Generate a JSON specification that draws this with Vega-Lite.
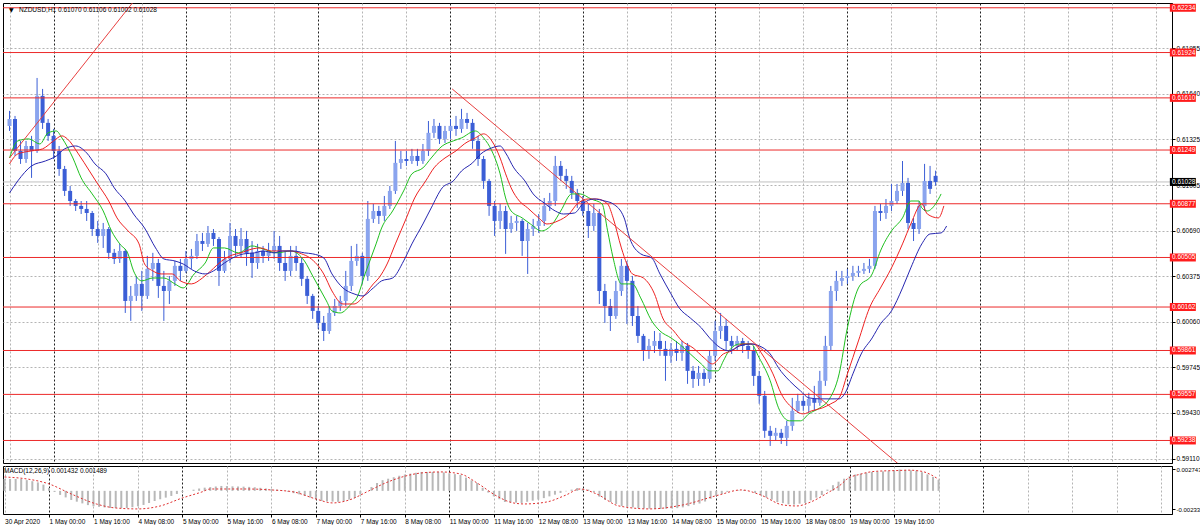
{
  "$schema": "https://vega.github.io/schema/vega-lite/v6.json",
  "background": "#ffffff",
  "padding": {"left": 2, "top": 2, "right": 0, "bottom": 0},
  "spacing": 1,
  "config": {
    "view": {"stroke": "#000000", "strokeWidth": 1},
    "font": "Liberation Sans",
    "axis": {"labelFont": "Liberation Sans", "labelColor": "#000000", "title": null}
  },
  "datasets": {
    "candles": [
      {"i":-16,"o":0.61416,"h":0.61520,"l":0.61381,"c":0.61464,"m":0.00153},
      {"i":-14,"o":0.61464,"h":0.61485,"l":0.61208,"c":0.61243,"m":0.00153},
      {"i":-12,"o":0.61243,"h":0.61312,"l":0.61153,"c":0.61187,"m":0.00153},
      {"i":-10,"o":0.61187,"h":0.61312,"l":0.61160,"c":0.61277,"m":0.00153},
      {"i":-8,"o":0.61277,"h":0.61347,"l":0.61056,"c":0.61243,"m":0.00138},
      {"i":-6,"o":0.61243,"h":0.61748,"l":0.61229,"c":0.61624,"m":0.00124},
      {"i":-4,"o":0.61624,"h":0.61672,"l":0.61395,"c":0.61437,"m":0.00109},
      {"i":-2,"o":0.61437,"h":0.61464,"l":0.61312,"c":0.61347,"m":0.00080},
      {"i":0,"o":0.61347,"h":0.61395,"l":0.61187,"c":0.61243,"m":0.00037},
      {"i":2,"o":0.61243,"h":0.61277,"l":0.61070,"c":0.61118,"m":-0.00014},
      {"i":4,"o":0.61118,"h":0.61139,"l":0.60931,"c":0.60966,"m":-0.00052},
      {"i":6,"o":0.60966,"h":0.61000,"l":0.60862,"c":0.60896,"m":-0.00084},
      {"i":8,"o":0.60896,"h":0.60910,"l":0.60827,"c":0.60862,"m":-0.00117},
      {"i":10,"o":0.60862,"h":0.60896,"l":0.60806,"c":0.60841,"m":-0.00139},
      {"i":12,"o":0.60841,"h":0.60896,"l":0.60758,"c":0.60813,"m":-0.00161},
      {"i":14,"o":0.60813,"h":0.60827,"l":0.60654,"c":0.60702,"m":-0.00183},
      {"i":16,"o":0.60702,"h":0.60758,"l":0.60606,"c":0.60654,"m":-0.00198},
      {"i":18,"o":0.60654,"h":0.60744,"l":0.60571,"c":0.60702,"m":-0.00205},
      {"i":20,"o":0.60702,"h":0.60716,"l":0.60495,"c":0.60537,"m":-0.00213},
      {"i":22,"o":0.60537,"h":0.60564,"l":0.60460,"c":0.60495,"m":-0.00220},
      {"i":24,"o":0.60495,"h":0.60599,"l":0.60467,"c":0.60550,"m":-0.00220},
      {"i":26,"o":0.60550,"h":0.60564,"l":0.60121,"c":0.60204,"m":-0.00220},
      {"i":28,"o":0.60204,"h":0.60308,"l":0.60066,"c":0.60239,"m":-0.00220},
      {"i":30,"o":0.60239,"h":0.60377,"l":0.60204,"c":0.60322,"m":-0.00210},
      {"i":32,"o":0.60322,"h":0.60412,"l":0.60135,"c":0.60239,"m":-0.00199},
      {"i":34,"o":0.60239,"h":0.60516,"l":0.60218,"c":0.60426,"m":-0.00181},
      {"i":36,"o":0.60426,"h":0.60537,"l":0.60343,"c":0.60467,"m":-0.00156},
      {"i":38,"o":0.60467,"h":0.60495,"l":0.60225,"c":0.60308,"m":-0.00130},
      {"i":40,"o":0.60308,"h":0.60412,"l":0.60066,"c":0.60273,"m":-0.00108},
      {"i":42,"o":0.60273,"h":0.60377,"l":0.60183,"c":0.60343,"m":-0.00087},
      {"i":44,"o":0.60343,"h":0.60481,"l":0.60308,"c":0.60447,"m":-0.00065},
      {"i":46,"o":0.60447,"h":0.60495,"l":0.60343,"c":0.60412,"m":-0.00040},
      {"i":48,"o":0.60412,"h":0.60550,"l":0.60398,"c":0.60495,"m":-0.00014},
      {"i":50,"o":0.60495,"h":0.60564,"l":0.60426,"c":0.60516,"m":0.00001},
      {"i":52,"o":0.60516,"h":0.60668,"l":0.60495,"c":0.60619,"m":0.00015},
      {"i":54,"o":0.60619,"h":0.60675,"l":0.60550,"c":0.60599,"m":0.00030},
      {"i":56,"o":0.60599,"h":0.60723,"l":0.60578,"c":0.60675,"m":0.00041},
      {"i":58,"o":0.60675,"h":0.60702,"l":0.60585,"c":0.60633,"m":0.00048},
      {"i":60,"o":0.60633,"h":0.60647,"l":0.60308,"c":0.60412,"m":0.00056},
      {"i":62,"o":0.60412,"h":0.60550,"l":0.60398,"c":0.60495,"m":0.00063},
      {"i":64,"o":0.60495,"h":0.60744,"l":0.60467,"c":0.60654,"m":0.00061},
      {"i":66,"o":0.60654,"h":0.60702,"l":0.60516,"c":0.60585,"m":0.00058},
      {"i":68,"o":0.60585,"h":0.60709,"l":0.60502,"c":0.60633,"m":0.00056},
      {"i":70,"o":0.60633,"h":0.60689,"l":0.60447,"c":0.60537,"m":0.00054},
      {"i":72,"o":0.60537,"h":0.60619,"l":0.60363,"c":0.60467,"m":0.00051},
      {"i":74,"o":0.60467,"h":0.60599,"l":0.60426,"c":0.60550,"m":0.00046},
      {"i":76,"o":0.60550,"h":0.60585,"l":0.60467,"c":0.60516,"m":0.00039},
      {"i":78,"o":0.60516,"h":0.60606,"l":0.60481,"c":0.60550,"m":0.00031},
      {"i":80,"o":0.60550,"h":0.60689,"l":0.60495,"c":0.60585,"m":0.00023},
      {"i":82,"o":0.60585,"h":0.60654,"l":0.60412,"c":0.60467,"m":0.00016},
      {"i":84,"o":0.60467,"h":0.60550,"l":0.60343,"c":0.60412,"m":0.00004},
      {"i":86,"o":0.60412,"h":0.60585,"l":0.60377,"c":0.60516,"m":-0.00012},
      {"i":88,"o":0.60516,"h":0.60585,"l":0.60412,"c":0.60467,"m":-0.00029},
      {"i":90,"o":0.60467,"h":0.60502,"l":0.60308,"c":0.60357,"m":-0.00045},
      {"i":92,"o":0.60357,"h":0.60377,"l":0.60183,"c":0.60239,"m":-0.00064},
      {"i":94,"o":0.60239,"h":0.60253,"l":0.60080,"c":0.60135,"m":-0.00086},
      {"i":96,"o":0.60135,"h":0.60169,"l":0.60010,"c":0.60052,"m":-0.00108},
      {"i":98,"o":0.60052,"h":0.60100,"l":0.59927,"c":0.59996,"m":-0.00130},
      {"i":100,"o":0.59996,"h":0.60169,"l":0.59976,"c":0.60121,"m":-0.00134},
      {"i":102,"o":0.60121,"h":0.60218,"l":0.60100,"c":0.60169,"m":-0.00138},
      {"i":104,"o":0.60169,"h":0.60239,"l":0.60135,"c":0.60204,"m":-0.00141},
      {"i":106,"o":0.60204,"h":0.60412,"l":0.60169,"c":0.60308,"m":-0.00133},
      {"i":108,"o":0.60308,"h":0.60585,"l":0.60273,"c":0.60481,"m":-0.00112},
      {"i":110,"o":0.60481,"h":0.60599,"l":0.60447,"c":0.60516,"m":-0.00091},
      {"i":112,"o":0.60516,"h":0.60537,"l":0.60322,"c":0.60377,"m":-0.00045},
      {"i":114,"o":0.60377,"h":0.60896,"l":0.60343,"c":0.60772,"m":0.00001},
      {"i":116,"o":0.60772,"h":0.60876,"l":0.60744,"c":0.60827,"m":0.00050},
      {"i":118,"o":0.60827,"h":0.60862,"l":0.60737,"c":0.60793,"m":0.00101},
      {"i":120,"o":0.60793,"h":0.60931,"l":0.60758,"c":0.60862,"m":0.00137},
      {"i":122,"o":0.60862,"h":0.61000,"l":0.60841,"c":0.60966,"m":0.00156},
      {"i":124,"o":0.60966,"h":0.61312,"l":0.60945,"c":0.61160,"m":0.00175},
      {"i":126,"o":0.61160,"h":0.61243,"l":0.61118,"c":0.61187,"m":0.00194},
      {"i":128,"o":0.61187,"h":0.61243,"l":0.61139,"c":0.61173,"m":0.00210},
      {"i":130,"o":0.61173,"h":0.61257,"l":0.61153,"c":0.61208,"m":0.00221},
      {"i":132,"o":0.61208,"h":0.61257,"l":0.61139,"c":0.61173,"m":0.00232},
      {"i":134,"o":0.61173,"h":0.61291,"l":0.61153,"c":0.61243,"m":0.00243},
      {"i":136,"o":0.61243,"h":0.61450,"l":0.61208,"c":0.61368,"m":0.00243},
      {"i":138,"o":0.61368,"h":0.61464,"l":0.61333,"c":0.61416,"m":0.00243},
      {"i":140,"o":0.61416,"h":0.61437,"l":0.61291,"c":0.61326,"m":0.00243},
      {"i":142,"o":0.61326,"h":0.61416,"l":0.61298,"c":0.61381,"m":0.00237},
      {"i":144,"o":0.61381,"h":0.61464,"l":0.61326,"c":0.61416,"m":0.00226},
      {"i":146,"o":0.61416,"h":0.61485,"l":0.61347,"c":0.61395,"m":0.00215},
      {"i":148,"o":0.61395,"h":0.61534,"l":0.61368,"c":0.61464,"m":0.00204},
      {"i":150,"o":0.61464,"h":0.61506,"l":0.61395,"c":0.61437,"m":0.00170},
      {"i":152,"o":0.61437,"h":0.61464,"l":0.61257,"c":0.61312,"m":0.00135},
      {"i":154,"o":0.61312,"h":0.61347,"l":0.61139,"c":0.61187,"m":0.00101},
      {"i":156,"o":0.61187,"h":0.61208,"l":0.60980,"c":0.61035,"m":0.00039},
      {"i":158,"o":0.61035,"h":0.61049,"l":0.60793,"c":0.60862,"m":-0.00022},
      {"i":160,"o":0.60862,"h":0.60896,"l":0.60654,"c":0.60758,"m":-0.00071},
      {"i":162,"o":0.60758,"h":0.60876,"l":0.60702,"c":0.60827,"m":-0.00107},
      {"i":164,"o":0.60827,"h":0.60862,"l":0.60530,"c":0.60702,"m":-0.00143},
      {"i":166,"o":0.60702,"h":0.60793,"l":0.60675,"c":0.60744,"m":-0.00147},
      {"i":168,"o":0.60744,"h":0.60793,"l":0.60689,"c":0.60758,"m":-0.00151},
      {"i":170,"o":0.60758,"h":0.60772,"l":0.60516,"c":0.60619,"m":-0.00155},
      {"i":172,"o":0.60619,"h":0.60744,"l":0.60391,"c":0.60702,"m":-0.00140},
      {"i":174,"o":0.60702,"h":0.60772,"l":0.60654,"c":0.60723,"m":-0.00126},
      {"i":176,"o":0.60723,"h":0.60806,"l":0.60675,"c":0.60758,"m":-0.00111},
      {"i":178,"o":0.60758,"h":0.60917,"l":0.60723,"c":0.60862,"m":-0.00093},
      {"i":180,"o":0.60862,"h":0.60952,"l":0.60827,"c":0.60896,"m":-0.00071},
      {"i":182,"o":0.60896,"h":0.61208,"l":0.60862,"c":0.61139,"m":-0.00049},
      {"i":184,"o":0.61139,"h":0.61173,"l":0.61035,"c":0.61070,"m":-0.00027},
      {"i":186,"o":0.61070,"h":0.61118,"l":0.60980,"c":0.61035,"m":-0.00006},
      {"i":188,"o":0.61035,"h":0.61070,"l":0.60910,"c":0.60952,"m":0.00016},
      {"i":190,"o":0.60952,"h":0.60980,"l":0.60848,"c":0.60896,"m":0.00037},
      {"i":192,"o":0.60896,"h":0.60931,"l":0.60793,"c":0.60827,"m":0.00027},
      {"i":194,"o":0.60827,"h":0.60876,"l":0.60640,"c":0.60723,"m":0.00017},
      {"i":196,"o":0.60723,"h":0.60876,"l":0.60689,"c":0.60813,"m":-0.00017},
      {"i":198,"o":0.60813,"h":0.60841,"l":0.60183,"c":0.60273,"m":-0.00075},
      {"i":200,"o":0.60273,"h":0.60322,"l":0.60052,"c":0.60169,"m":-0.00117},
      {"i":202,"o":0.60169,"h":0.60218,"l":0.59996,"c":0.60100,"m":-0.00143},
      {"i":204,"o":0.60100,"h":0.60343,"l":0.60080,"c":0.60273,"m":-0.00168},
      {"i":206,"o":0.60273,"h":0.60495,"l":0.60239,"c":0.60447,"m":-0.00194},
      {"i":208,"o":0.60447,"h":0.60481,"l":0.60045,"c":0.60343,"m":-0.00203},
      {"i":210,"o":0.60343,"h":0.60377,"l":0.60031,"c":0.60100,"m":-0.00212},
      {"i":212,"o":0.60100,"h":0.60169,"l":0.59913,"c":0.59962,"m":-0.00221},
      {"i":214,"o":0.59962,"h":0.59976,"l":0.59789,"c":0.59858,"m":-0.00226},
      {"i":216,"o":0.59858,"h":0.59941,"l":0.59803,"c":0.59893,"m":-0.00229},
      {"i":218,"o":0.59893,"h":0.59996,"l":0.59844,"c":0.59927,"m":-0.00232},
      {"i":220,"o":0.59927,"h":0.59983,"l":0.59824,"c":0.59872,"m":-0.00233},
      {"i":222,"o":0.59872,"h":0.59927,"l":0.59651,"c":0.59824,"m":-0.00229},
      {"i":224,"o":0.59824,"h":0.59913,"l":0.59775,"c":0.59872,"m":-0.00226},
      {"i":226,"o":0.59872,"h":0.59927,"l":0.59789,"c":0.59844,"m":-0.00222},
      {"i":228,"o":0.59844,"h":0.59927,"l":0.59789,"c":0.59893,"m":-0.00212},
      {"i":230,"o":0.59893,"h":0.59913,"l":0.59630,"c":0.59720,"m":-0.00196},
      {"i":232,"o":0.59720,"h":0.59754,"l":0.59602,"c":0.59664,"m":-0.00179},
      {"i":234,"o":0.59664,"h":0.59754,"l":0.59616,"c":0.59706,"m":-0.00163},
      {"i":236,"o":0.59706,"h":0.59734,"l":0.59616,"c":0.59664,"m":-0.00137},
      {"i":238,"o":0.59664,"h":0.59858,"l":0.59637,"c":0.59824,"m":-0.00101},
      {"i":240,"o":0.59824,"h":0.60066,"l":0.59789,"c":0.59996,"m":-0.00065},
      {"i":242,"o":0.59996,"h":0.60121,"l":0.59941,"c":0.60031,"m":-0.00039},
      {"i":244,"o":0.60031,"h":0.60080,"l":0.59858,"c":0.59927,"m":-0.00013},
      {"i":246,"o":0.59927,"h":0.59962,"l":0.59837,"c":0.59893,"m":0.00002},
      {"i":248,"o":0.59893,"h":0.59962,"l":0.59858,"c":0.59927,"m":0.00006},
      {"i":250,"o":0.59927,"h":0.59948,"l":0.59844,"c":0.59893,"m":0.00010},
      {"i":252,"o":0.59893,"h":0.59927,"l":0.59803,"c":0.59858,"m":-0.00001},
      {"i":254,"o":0.59858,"h":0.59893,"l":0.59616,"c":0.59685,"m":-0.00027},
      {"i":256,"o":0.59685,"h":0.59720,"l":0.59492,"c":0.59547,"m":-0.00053},
      {"i":258,"o":0.59547,"h":0.59581,"l":0.59256,"c":0.59305,"m":-0.00083},
      {"i":260,"o":0.59305,"h":0.59339,"l":0.59200,"c":0.59270,"m":-0.00113},
      {"i":262,"o":0.59270,"h":0.59325,"l":0.59235,"c":0.59291,"m":-0.00143},
      {"i":264,"o":0.59291,"h":0.59318,"l":0.59214,"c":0.59256,"m":-0.00158},
      {"i":266,"o":0.59256,"h":0.59374,"l":0.59200,"c":0.59339,"m":-0.00173},
      {"i":268,"o":0.59339,"h":0.59533,"l":0.59305,"c":0.59443,"m":-0.00176},
      {"i":270,"o":0.59443,"h":0.59561,"l":0.59429,"c":0.59512,"m":-0.00165},
      {"i":272,"o":0.59512,"h":0.59547,"l":0.59443,"c":0.59478,"m":-0.00155},
      {"i":274,"o":0.59478,"h":0.59568,"l":0.59429,"c":0.59526,"m":-0.00121},
      {"i":276,"o":0.59526,"h":0.59616,"l":0.59443,"c":0.59499,"m":-0.00087},
      {"i":278,"o":0.59499,"h":0.59720,"l":0.59478,"c":0.59651,"m":-0.00053},
      {"i":280,"o":0.59651,"h":0.59962,"l":0.59616,"c":0.59893,"m":0.00016},
      {"i":282,"o":0.59893,"h":0.60308,"l":0.59858,"c":0.60273,"m":0.00073},
      {"i":284,"o":0.60273,"h":0.60412,"l":0.60204,"c":0.60343,"m":0.00118},
      {"i":286,"o":0.60343,"h":0.60412,"l":0.60308,"c":0.60363,"m":0.00156},
      {"i":288,"o":0.60363,"h":0.60426,"l":0.60322,"c":0.60377,"m":0.00188},
      {"i":290,"o":0.60377,"h":0.60447,"l":0.60343,"c":0.60398,"m":0.00210},
      {"i":292,"o":0.60398,"h":0.60447,"l":0.60370,"c":0.60412,"m":0.00221},
      {"i":294,"o":0.60412,"h":0.60467,"l":0.60391,"c":0.60426,"m":0.00232},
      {"i":296,"o":0.60426,"h":0.60495,"l":0.60398,"c":0.60447,"m":0.00243},
      {"i":298,"o":0.60447,"h":0.60862,"l":0.60426,"c":0.60827,"m":0.00246},
      {"i":300,"o":0.60827,"h":0.60876,"l":0.60758,"c":0.60813,"m":0.00250},
      {"i":302,"o":0.60813,"h":0.60910,"l":0.60772,"c":0.60862,"m":0.00253},
      {"i":304,"o":0.60862,"h":0.61014,"l":0.60827,"c":0.60896,"m":0.00260},
      {"i":306,"o":0.60896,"h":0.61014,"l":0.60876,"c":0.60966,"m":0.00274},
      {"i":308,"o":0.60966,"h":0.61173,"l":0.60931,"c":0.61021,"m":0.00268},
      {"i":310,"o":0.61021,"h":0.61056,"l":0.60702,"c":0.60744,"m":0.00264},
      {"i":312,"o":0.60744,"h":0.60779,"l":0.60619,"c":0.60702,"m":0.00258},
      {"i":314,"o":0.60702,"h":0.60896,"l":0.60668,"c":0.60862,"m":0.00240},
      {"i":316,"o":0.60862,"h":0.61153,"l":0.60827,"c":0.61035,"m":0.00212},
      {"i":318,"o":0.61035,"h":0.61139,"l":0.60945,"c":0.60980,"m":0.00178},
      {"i":320,"o":0.61070,"h":0.61106,"l":0.61002,"c":0.61028,"m":0.00143}
    ],
    "ma": [
      {"k":"fast","i":-16,"p":0.61194},{"k":"fast","i":-13,"p":0.61312},{"k":"fast","i":-9,"p":0.61326},{"k":"fast","i":-5,"p":0.61291},{"k":"fast","i":-2,"p":0.61368},{"k":"fast","i":1,"p":0.61381},{"k":"fast","i":3,"p":0.61333},{"k":"fast","i":7,"p":0.61194},{"k":"fast","i":10,"p":0.61056},{"k":"fast","i":14,"p":0.60945},{"k":"fast","i":18,"p":0.60827},{"k":"fast","i":21,"p":0.60689},{"k":"fast","i":24,"p":0.60599},{"k":"fast","i":27,"p":0.60530},{"k":"fast","i":29,"p":0.60412},{"k":"fast","i":32,"p":0.60343},{"k":"fast","i":36,"p":0.60363},{"k":"fast","i":40,"p":0.60363},{"k":"fast","i":44,"p":0.60322},{"k":"fast","i":47,"p":0.60294},{"k":"fast","i":51,"p":0.60391},{"k":"fast","i":55,"p":0.60467},{"k":"fast","i":58,"p":0.60571},{"k":"fast","i":62,"p":0.60571},{"k":"fast","i":67,"p":0.60537},{"k":"fast","i":72,"p":0.60585},{"k":"fast","i":76,"p":0.60564},{"k":"fast","i":81,"p":0.60537},{"k":"fast","i":86,"p":0.60550},{"k":"fast","i":91,"p":0.60481},{"k":"fast","i":94,"p":0.60377},{"k":"fast","i":99,"p":0.60204},{"k":"fast","i":101,"p":0.60135},{"k":"fast","i":104,"p":0.60121},{"k":"fast","i":108,"p":0.60183},{"k":"fast","i":110,"p":0.60225},{"k":"fast","i":113,"p":0.60391},{"k":"fast","i":117,"p":0.60599},{"k":"fast","i":119,"p":0.60709},{"k":"fast","i":123,"p":0.60827},{"k":"fast","i":127,"p":0.60966},{"k":"fast","i":130,"p":0.61084},{"k":"fast","i":134,"p":0.61125},{"k":"fast","i":137,"p":0.61194},{"k":"fast","i":141,"p":0.61277},{"k":"fast","i":145,"p":0.61312},{"k":"fast","i":148,"p":0.61333},{"k":"fast","i":153,"p":0.61381},{"k":"fast","i":156,"p":0.61333},{"k":"fast","i":159,"p":0.61243},{"k":"fast","i":162,"p":0.61084},{"k":"fast","i":164,"p":0.60917},{"k":"fast","i":166,"p":0.60827},{"k":"fast","i":170,"p":0.60779},{"k":"fast","i":173,"p":0.60737},{"k":"fast","i":177,"p":0.60689},{"k":"fast","i":181,"p":0.60737},{"k":"fast","i":184,"p":0.60827},{"k":"fast","i":188,"p":0.60945},{"k":"fast","i":191,"p":0.60945},{"k":"fast","i":195,"p":0.60910},{"k":"fast","i":199,"p":0.60876},{"k":"fast","i":201,"p":0.60689},{"k":"fast","i":203,"p":0.60502},{"k":"fast","i":206,"p":0.60322},{"k":"fast","i":210,"p":0.60322},{"k":"fast","i":213,"p":0.60225},{"k":"fast","i":217,"p":0.60066},{"k":"fast","i":220,"p":0.59996},{"k":"fast","i":224,"p":0.59948},{"k":"fast","i":227,"p":0.59906},{"k":"fast","i":231,"p":0.59837},{"k":"fast","i":235,"p":0.59768},{"k":"fast","i":238,"p":0.59720},{"k":"fast","i":241,"p":0.59720},{"k":"fast","i":243,"p":0.59789},{"k":"fast","i":245,"p":0.59858},{"k":"fast","i":249,"p":0.59906},{"k":"fast","i":253,"p":0.59906},{"k":"fast","i":256,"p":0.59810},{"k":"fast","i":260,"p":0.59651},{"k":"fast","i":263,"p":0.59464},{"k":"fast","i":267,"p":0.59374},{"k":"fast","i":271,"p":0.59374},{"k":"fast","i":274,"p":0.59422},{"k":"fast","i":278,"p":0.59464},{"k":"fast","i":281,"p":0.59512},{"k":"fast","i":285,"p":0.59699},{"k":"fast","i":288,"p":0.60018},{"k":"fast","i":292,"p":0.60294},{"k":"fast","i":297,"p":0.60391},{"k":"fast","i":300,"p":0.60550},{"k":"fast","i":304,"p":0.60689},{"k":"fast","i":308,"p":0.60779},{"k":"fast","i":311,"p":0.60896},{"k":"fast","i":314,"p":0.60896},{"k":"fast","i":315,"p":0.60848},{"k":"fast","i":317,"p":0.60827},{"k":"fast","i":320,"p":0.60876},{"k":"fast","i":322,"p":0.60945},
      {"k":"mid","i":-16,"p":0.61153},{"k":"mid","i":-13,"p":0.61222},{"k":"mid","i":-8,"p":0.61243},{"k":"mid","i":-4,"p":0.61257},{"k":"mid","i":0,"p":0.61312},{"k":"mid","i":3,"p":0.61347},{"k":"mid","i":5,"p":0.61326},{"k":"mid","i":9,"p":0.61222},{"k":"mid","i":13,"p":0.61104},{"k":"mid","i":16,"p":0.61014},{"k":"mid","i":20,"p":0.60896},{"k":"mid","i":23,"p":0.60779},{"k":"mid","i":27,"p":0.60689},{"k":"mid","i":31,"p":0.60599},{"k":"mid","i":33,"p":0.60460},{"k":"mid","i":36,"p":0.60412},{"k":"mid","i":39,"p":0.60391},{"k":"mid","i":43,"p":0.60391},{"k":"mid","i":46,"p":0.60343},{"k":"mid","i":50,"p":0.60322},{"k":"mid","i":54,"p":0.60363},{"k":"mid","i":57,"p":0.60412},{"k":"mid","i":61,"p":0.60481},{"k":"mid","i":64,"p":0.60516},{"k":"mid","i":68,"p":0.60537},{"k":"mid","i":72,"p":0.60564},{"k":"mid","i":75,"p":0.60571},{"k":"mid","i":79,"p":0.60550},{"k":"mid","i":82,"p":0.60550},{"k":"mid","i":86,"p":0.60550},{"k":"mid","i":90,"p":0.60530},{"k":"mid","i":93,"p":0.60502},{"k":"mid","i":98,"p":0.60391},{"k":"mid","i":101,"p":0.60273},{"k":"mid","i":105,"p":0.60183},{"k":"mid","i":109,"p":0.60183},{"k":"mid","i":112,"p":0.60225},{"k":"mid","i":116,"p":0.60322},{"k":"mid","i":118,"p":0.60363},{"k":"mid","i":121,"p":0.60460},{"k":"mid","i":124,"p":0.60599},{"k":"mid","i":128,"p":0.60779},{"k":"mid","i":131,"p":0.60917},{"k":"mid","i":135,"p":0.61035},{"k":"mid","i":138,"p":0.61125},{"k":"mid","i":142,"p":0.61194},{"k":"mid","i":146,"p":0.61243},{"k":"mid","i":149,"p":0.61291},{"k":"mid","i":153,"p":0.61333},{"k":"mid","i":156,"p":0.61361},{"k":"mid","i":159,"p":0.61312},{"k":"mid","i":162,"p":0.61194},{"k":"mid","i":164,"p":0.61084},{"k":"mid","i":166,"p":0.60987},{"k":"mid","i":169,"p":0.60896},{"k":"mid","i":172,"p":0.60848},{"k":"mid","i":176,"p":0.60779},{"k":"mid","i":179,"p":0.60737},{"k":"mid","i":183,"p":0.60758},{"k":"mid","i":187,"p":0.60806},{"k":"mid","i":190,"p":0.60876},{"k":"mid","i":194,"p":0.60910},{"k":"mid","i":197,"p":0.60910},{"k":"mid","i":201,"p":0.60876},{"k":"mid","i":203,"p":0.60779},{"k":"mid","i":206,"p":0.60571},{"k":"mid","i":208,"p":0.60460},{"k":"mid","i":210,"p":0.60391},{"k":"mid","i":214,"p":0.60363},{"k":"mid","i":218,"p":0.60253},{"k":"mid","i":221,"p":0.60086},{"k":"mid","i":225,"p":0.59996},{"k":"mid","i":228,"p":0.59927},{"k":"mid","i":232,"p":0.59879},{"k":"mid","i":236,"p":0.59810},{"k":"mid","i":239,"p":0.59768},{"k":"mid","i":243,"p":0.59837},{"k":"mid","i":246,"p":0.59858},{"k":"mid","i":250,"p":0.59906},{"k":"mid","i":254,"p":0.59906},{"k":"mid","i":257,"p":0.59837},{"k":"mid","i":261,"p":0.59699},{"k":"mid","i":264,"p":0.59561},{"k":"mid","i":268,"p":0.59464},{"k":"mid","i":272,"p":0.59422},{"k":"mid","i":275,"p":0.59443},{"k":"mid","i":279,"p":0.59464},{"k":"mid","i":282,"p":0.59492},{"k":"mid","i":285,"p":0.59533},{"k":"mid","i":288,"p":0.59699},{"k":"mid","i":292,"p":0.59927},{"k":"mid","i":296,"p":0.60155},{"k":"mid","i":300,"p":0.60294},{"k":"mid","i":304,"p":0.60433},{"k":"mid","i":308,"p":0.60599},{"k":"mid","i":311,"p":0.60737},{"k":"mid","i":315,"p":0.60876},{"k":"mid","i":317,"p":0.60806},{"k":"mid","i":321,"p":0.60779},{"k":"mid","i":323,"p":0.60862},
      {"k":"slow","i":-16,"p":0.60952},{"k":"slow","i":-13,"p":0.61035},{"k":"slow","i":-8,"p":0.61139},{"k":"slow","i":-3,"p":0.61173},{"k":"slow","i":1,"p":0.61208},{"k":"slow","i":4,"p":0.61257},{"k":"slow","i":8,"p":0.61277},{"k":"slow","i":12,"p":0.61229},{"k":"slow","i":15,"p":0.61153},{"k":"slow","i":19,"p":0.61084},{"k":"slow","i":22,"p":0.60987},{"k":"slow","i":26,"p":0.60896},{"k":"slow","i":29,"p":0.60806},{"k":"slow","i":33,"p":0.60709},{"k":"slow","i":37,"p":0.60571},{"k":"slow","i":40,"p":0.60495},{"k":"slow","i":44,"p":0.60481},{"k":"slow","i":47,"p":0.60460},{"k":"slow","i":51,"p":0.60412},{"k":"slow","i":55,"p":0.60391},{"k":"slow","i":58,"p":0.60412},{"k":"slow","i":62,"p":0.60467},{"k":"slow","i":65,"p":0.60502},{"k":"slow","i":69,"p":0.60530},{"k":"slow","i":73,"p":0.60537},{"k":"slow","i":76,"p":0.60550},{"k":"slow","i":80,"p":0.60537},{"k":"slow","i":83,"p":0.60550},{"k":"slow","i":87,"p":0.60550},{"k":"slow","i":91,"p":0.60537},{"k":"slow","i":94,"p":0.60530},{"k":"slow","i":98,"p":0.60502},{"k":"slow","i":101,"p":0.60391},{"k":"slow","i":105,"p":0.60294},{"k":"slow","i":109,"p":0.60253},{"k":"slow","i":112,"p":0.60239},{"k":"slow","i":116,"p":0.60294},{"k":"slow","i":119,"p":0.60343},{"k":"slow","i":123,"p":0.60363},{"k":"slow","i":127,"p":0.60481},{"k":"slow","i":130,"p":0.60599},{"k":"slow","i":134,"p":0.60737},{"k":"slow","i":137,"p":0.60848},{"k":"slow","i":141,"p":0.60987},{"k":"slow","i":145,"p":0.61035},{"k":"slow","i":148,"p":0.61104},{"k":"slow","i":152,"p":0.61160},{"k":"slow","i":155,"p":0.61222},{"k":"slow","i":159,"p":0.61264},{"k":"slow","i":162,"p":0.61277},{"k":"slow","i":164,"p":0.61229},{"k":"slow","i":167,"p":0.61125},{"k":"slow","i":171,"p":0.61035},{"k":"slow","i":174,"p":0.60945},{"k":"slow","i":178,"p":0.60882},{"k":"slow","i":182,"p":0.60827},{"k":"slow","i":185,"p":0.60806},{"k":"slow","i":189,"p":0.60813},{"k":"slow","i":192,"p":0.60876},{"k":"slow","i":196,"p":0.60910},{"k":"slow","i":200,"p":0.60896},{"k":"slow","i":203,"p":0.60876},{"k":"slow","i":207,"p":0.60779},{"k":"slow","i":209,"p":0.60640},{"k":"slow","i":213,"p":0.60530},{"k":"slow","i":217,"p":0.60502},{"k":"slow","i":220,"p":0.60391},{"k":"slow","i":224,"p":0.60253},{"k":"slow","i":227,"p":0.60155},{"k":"slow","i":231,"p":0.60086},{"k":"slow","i":235,"p":0.60018},{"k":"slow","i":238,"p":0.59948},{"k":"slow","i":242,"p":0.59879},{"k":"slow","i":245,"p":0.59858},{"k":"slow","i":249,"p":0.59893},{"k":"slow","i":253,"p":0.59906},{"k":"slow","i":256,"p":0.59893},{"k":"slow","i":260,"p":0.59837},{"k":"slow","i":263,"p":0.59741},{"k":"slow","i":267,"p":0.59651},{"k":"slow","i":271,"p":0.59581},{"k":"slow","i":274,"p":0.59533},{"k":"slow","i":278,"p":0.59526},{"k":"slow","i":281,"p":0.59526},{"k":"slow","i":285,"p":0.59526},{"k":"slow","i":287,"p":0.59561},{"k":"slow","i":290,"p":0.59699},{"k":"slow","i":293,"p":0.59837},{"k":"slow","i":297,"p":0.59948},{"k":"slow","i":300,"p":0.60045},{"k":"slow","i":304,"p":0.60135},{"k":"slow","i":308,"p":0.60294},{"k":"slow","i":311,"p":0.60433},{"k":"slow","i":315,"p":0.60599},{"k":"slow","i":318,"p":0.60668},{"k":"slow","i":322,"p":0.60675},{"k":"slow","i":324,"p":0.60723}
    ],
    "levels": [
      {"p":0.62234,"kind":"level"},{"p":0.61924,"kind":"level"},{"p":0.61610,"kind":"level"},{"p":0.61249,"kind":"level"},{"p":0.60877,"kind":"level"},{"p":0.60505,"kind":"level"},{"p":0.60162,"kind":"level"},{"p":0.59861,"kind":"level"},{"p":0.59557,"kind":"level"},{"p":0.59238,"kind":"level"},{"p":0.61028,"kind":"bid"}
    ],
    "trend": [
      {"id":"up","i":-16,"p":0.61194},{"id":"up","i":30,"p":0.62301},
      {"id":"down","i":144.6,"p":0.61672},{"id":"down","i":308,"p":0.59051}
    ],
    "signal": [
      {"i":-16,"s":0.00178},{"i":-8,"s":0.00153},{"i":0,"s":0.00089},{"i":8,"s":-0.00040},{"i":17,"s":-0.00168},{"i":24,"s":-0.00220},{"i":32,"s":-0.00232},{"i":40,"s":-0.00194},{"i":48,"s":-0.00091},{"i":55,"s":-0.00014},{"i":58,"s":0.00024},{"i":71,"s":0.00024},{"i":80,"s":0.00012},{"i":88,"s":-0.00014},{"i":96,"s":-0.00104},{"i":102,"s":-0.00155},{"i":108,"s":-0.00117},{"i":115,"s":-0.00001},{"i":121,"s":0.00101},{"i":127,"s":0.00178},{"i":134,"s":0.00230},{"i":141,"s":0.00243},{"i":148,"s":0.00217},{"i":154,"s":0.00101},{"i":161,"s":-0.00065},{"i":167,"s":-0.00155},{"i":171,"s":-0.00168},{"i":179,"s":-0.00143},{"i":186,"s":-0.00053},{"i":191,"s":0.00024},{"i":197,"s":-0.00040},{"i":205,"s":-0.00194},{"i":216,"s":-0.00232},{"i":228,"s":-0.00181},{"i":241,"s":-0.00053},{"i":249,"s":0.00012},{"i":256,"s":-0.00053},{"i":264,"s":-0.00181},{"i":269,"s":-0.00194},{"i":274,"s":-0.00143},{"i":280,"s":-0.00027},{"i":285,"s":0.00085},{"i":287,"s":0.00150},{"i":292,"s":0.00215},{"i":297,"s":0.00250},{"i":306,"s":0.00262},{"i":309,"s":0.00266},{"i":314,"s":0.00250},{"i":320,"s":0.00149}
    ]
  },
  "vconcat": [
    {
      "width": 1169,
      "height": 460,
      "layer": [
        {
          "data": {"name": "levels"},
          "transform": [{"filter": "datum.kind === 'bid'"}],
          "mark": {"type": "rule", "strokeWidth": 1, "color": "#c0c0c0"},
          "encoding": {
            "y": {"field": "p", "type": "quantitative", "scale": {"domain": [0.59082, 0.62267], "nice": false, "zero": false},
              "axis": {"orient": "right", "values": [0.62115,0.61955,0.618,0.6164,0.6148,0.61325,0.61165,0.61005,0.6085,0.6069,0.60535,0.60375,0.6022,0.6006,0.599,0.59745,0.59585,0.5943,0.5927,0.5911],
                "labelExpr": "format(datum.value, '.5f')", "labelFontSize": 6.5, "tickSize": 3, "labelPadding": 1, "labelOverlap": false, "labelFlush": false,
                "domainColor": "#000000", "tickColor": "#000000", "grid": true, "gridColor": "#b4b4b4", "gridDash": [2, 2], "title": null}}
          }
        },
        {
          "data": {"name": "candles"},
          "mark": {"type": "rule", "strokeWidth": 1, "color": "#3b5ed6", "clip": true},
          "encoding": {
            "x": {"field": "i", "type": "quantitative", "scale": {"domain": [-16.547, 403.96], "nice": false, "zero": false},
              "axis": {"orient": "bottom", "labels": false, "ticks": false, "domain": false, "grid": true,
                "values": [-16,-8,0,8,16,24,32,40,48,56,64,72,80,88,96,104,112,120,128,136,144,152,160,168,176,184,192,200,208,216,224,232,240,248,256,264,272,280,288,296,304,312,320,328,336,344,352,360,368,376,384,392,400],
                "gridColor": {"condition": {"test": "datum.value % 24 === 0 && datum.value <= 336", "value": "#202020"}, "value": "#b4b4b4"},
                "gridDash": {"condition": {"test": "datum.value % 24 === 0 && datum.value <= 336", "value": [2, 2]}, "value": [2, 2]},
                "title": null}},
            "y": {"field": "l", "type": "quantitative"},
            "y2": {"field": "h"}
          }
        },
        {
          "data": {"name": "candles"},
          "mark": {"type": "bar", "width": 4, "clip": true},
          "encoding": {
            "x": {"field": "i", "type": "quantitative"},
            "y": {"field": "o", "type": "quantitative"},
            "y2": {"field": "c"},
            "color": {"condition": {"test": "datum.c >= datum.o", "value": "#8aa4ee"}, "value": "#3b5ed6"}
          }
        },
        {
          "data": {"name": "levels"},
          "transform": [{"filter": "datum.kind === 'level'"}],
          "mark": {"type": "rule", "strokeWidth": 1, "color": "#ec2a2a"},
          "encoding": {"y": {"field": "p", "type": "quantitative"}}
        },
        {
          "data": {"name": "ma"},
          "mark": {"type": "line", "strokeWidth": 1, "clip": true, "interpolate": "monotone"},
          "encoding": {
            "x": {"field": "i", "type": "quantitative"},
            "y": {"field": "p", "type": "quantitative"},
            "color": {"field": "k", "type": "nominal", "scale": {"domain": ["fast", "mid", "slow"], "range": ["#1fc01f", "#ee2222", "#2626b0"]}, "legend": null}
          }
        },
        {
          "data": {"name": "trend"},
          "mark": {"type": "line", "strokeWidth": 1, "color": "#e84040", "clip": true},
          "encoding": {
            "x": {"field": "i", "type": "quantitative"},
            "y": {"field": "p", "type": "quantitative"},
            "detail": {"field": "id"}
          }
        },
        {
          "data": {"name": "levels"},
          "mark": {"type": "tick", "orient": "horizontal", "size": 26, "thickness": 8, "opacity": 1, "clip": false},
          "encoding": {
            "x": {"datum": 409.71},
            "y": {"field": "p", "type": "quantitative"},
            "color": {"condition": {"test": "datum.kind === 'bid'", "value": "#000000"}, "value": "#ff1c1c"}
          }
        },
        {
          "data": {"name": "levels"},
          "mark": {"type": "text", "align": "left", "baseline": "middle", "fontSize": 6.5, "font": "Liberation Sans", "color": "#ffffff", "clip": false},
          "encoding": {
            "x": {"datum": 405.76},
            "y": {"field": "p", "type": "quantitative"},
            "text": {"field": "p", "type": "quantitative", "format": ".5f"}
          }
        },
        {
          "data": {"values": [{}]},
          "mark": {"type": "text", "align": "left", "baseline": "middle", "fontSize": 6, "font": "DejaVu Sans", "color": "#000000", "dx": 1, "dy": 6.5, "text": "▼"},
          "encoding": {"x": {"datum": -16.547}, "y": {"datum": 0.62267}}
        },
        {
          "data": {"values": [{}]},
          "mark": {"type": "text", "align": "left", "baseline": "middle", "fontSize": 6.5, "font": "Liberation Sans", "color": "#000000", "dx": 11, "dy": 6.5, "text": "NZDUSD,H1  0.61070 0.61106 0.61002 0.61028"},
          "encoding": {"x": {"datum": -16.547}, "y": {"datum": 0.62267}}
        }
      ]
    },
    {
      "width": 1169,
      "height": 48,
      "layer": [
        {
          "data": {"name": "candles"},
          "mark": {"type": "rule", "strokeWidth": 2, "color": "#b8b8b8"},
          "encoding": {
            "x": {"field": "i", "type": "quantitative", "scale": {"domain": [-16.547, 403.96], "nice": false, "zero": false},
              "axis": {"orient": "bottom", "domain": false, "grid": true,
                "values": [-16,-8,0,8,16,24,32,40,48,56,64,72,80,88,96,104,112,120,128,136,144,152,160,168,176,184,192,200,208,216,224,232,240,248,256,264,272,280,288,296,304,312,320,328,336,344,352,360,368,376,384,392,400],
                "gridColor": {"condition": {"test": "datum.value % 24 === 0 && datum.value <= 336", "value": "#202020"}, "value": "#b4b4b4"},
                "gridDash": {"condition": {"test": "datum.value % 24 === 0 && datum.value <= 336", "value": [2, 2]}, "value": [2, 2]},
                "labelExpr": "datum.value === -16 ? '30 Apr 2020' : ((datum.value >= 0 && datum.value <= 304 && datum.value % 16 === 0) ? ['1 May 00:00','1 May 16:00','4 May 08:00','5 May 00:00','5 May 16:00','6 May 08:00','7 May 00:00','7 May 16:00','8 May 08:00','11 May 00:00','11 May 16:00','12 May 08:00','13 May 00:00','13 May 16:00','14 May 08:00','15 May 00:00','15 May 16:00','18 May 08:00','19 May 00:00','19 May 16:00'][datum.value / 16] : '')",
                "labelAlign": "left", "labelFontSize": 6.5, "labelOverlap": false, "labelFlush": false, "labelPadding": 1, "tickSize": 3, "tickColor": "#000000",
                "tickOpacity": {"condition": {"test": "datum.value >= 0 && datum.value <= 304 && datum.value % 16 === 0", "value": 1}, "value": 0},
                "title": null}},
            "y": {"field": "m", "type": "quantitative", "scale": {"domain": [-0.002972, 0.003192], "nice": false, "zero": false},
              "axis": {"orient": "right", "values": [0.002743, 0, -0.00233],
                "labelExpr": "datum.value === 0 ? '0.00' : (datum.value > 0 ? '0.002743' : '-0.00233')",
                "labelFontSize": 6, "tickSize": 3, "labelPadding": 1, "labelOverlap": false, "labelFlush": false, "domainColor": "#000000", "tickColor": "#000000", "grid": false, "title": null}},
            "y2": {"datum": 0}
          }
        },
        {
          "data": {"name": "signal"},
          "mark": {"type": "line", "strokeWidth": 1, "color": "#e03030", "strokeDash": [2, 2], "interpolate": "monotone"},
          "encoding": {
            "x": {"field": "i", "type": "quantitative"},
            "y": {"field": "s", "type": "quantitative"}
          }
        },
        {
          "data": {"values": [{}]},
          "mark": {"type": "text", "align": "left", "baseline": "middle", "fontSize": 6.5, "font": "Liberation Sans", "color": "#000000", "dx": 1, "dy": 4.5, "text": "MACD(12,26,9) 0.001432 0.001489"},
          "encoding": {"x": {"datum": -16.547}, "y": {"datum": 0.003192}}
        }
      ]
    }
  ]
}
